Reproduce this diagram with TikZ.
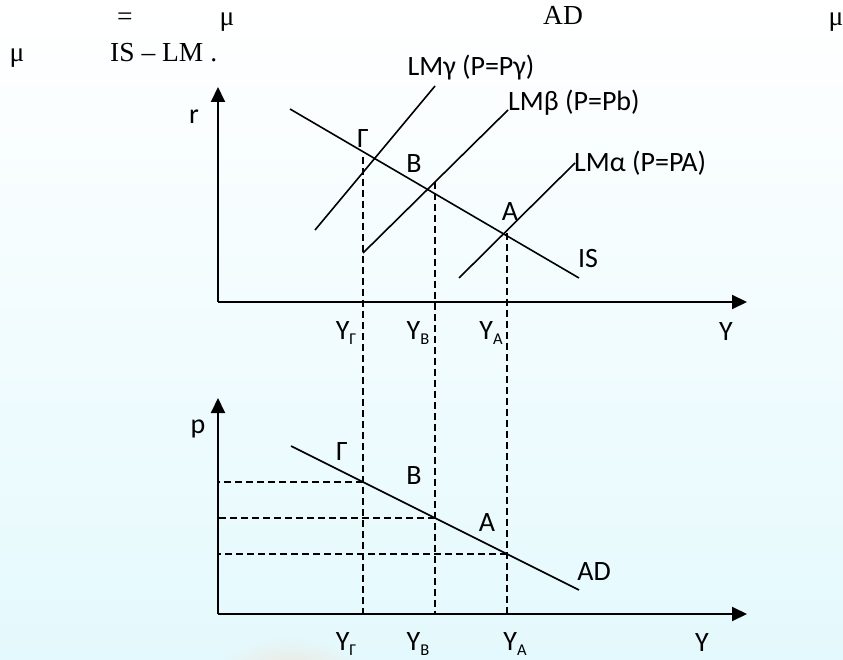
\documentclass[tikz,border=0pt]{standalone}
\usepackage{fontspec}
\setmainfont{Carlito}
\newfontfamily\serifnote{Liberation Serif}
\usetikzlibrary{arrows.meta}
\definecolor{bgbottom}{RGB}{228,249,253}
\definecolor{peach}{RGB}{242,216,198}
\newcommand\mysub[1]{\raisebox{-0.4ex}{\fontsize{16.5}{16.5}\selectfont #1}}
\begin{document}
\begin{tikzpicture}[x=1pt,y=-1pt,
  axis/.style={line width=2pt,-{Triangle[length=15pt,width=14pt]}},
  curve/.style={line width=1.6pt},
  guide/.style={line width=1.6pt,dash pattern=on 7pt off 4pt},
  lbl/.style={inner sep=0pt,font=\fontsize{28}{28}\selectfont},
  tick/.style={lbl,anchor=base},
  toptext/.style={inner sep=0pt,anchor=base,font=\serifnote\fontsize{27.5}{27.5}\selectfont}]
% background
\shade[top color=white,bottom color=bgbottom] (0,0) rectangle (843,660);
\begin{scope}
\clip (0,0) rectangle (843,660);
\shade[inner color=peach,outer color=bgbottom] (290,705) ellipse (90 and 70);
\end{scope}
\useasboundingbox (0,0) rectangle (843,660);
% top text
\node[toptext] (t1) at (125,26) {=};
\node[toptext] (t2) at (227,26) {μ};
\node[toptext] (t3) at (563,25) {AD};
\node[toptext] (t4) at (836,26) {μ};
\node[toptext] (t5) at (17,62) {μ};
\node[toptext,anchor=base west] (t6) at (110,62) {IS – LM .};
% axes
\coordinate (O1) at (218,302);
\coordinate (rTip) at (218,87);
\coordinate (Y1tip) at (747,302);
\coordinate (O2) at (218,614);
\coordinate (pTip) at (218,398);
\coordinate (Y2tip) at (747,614);
\draw[axis] (O1) -- (rTip);
\draw[axis] (O1) -- (Y1tip);
\draw[axis] (O2) -- (pTip);
\draw[axis] (O2) -- (Y2tip);
% curves
\coordinate (IS1) at (290,109); \coordinate (IS2) at (579,278);
\coordinate (LMg1) at (315,230); \coordinate (LMg2) at (435,86);
\coordinate (LMb1) at (363,253); \coordinate (LMb2) at (508,110);
\coordinate (LMa1) at (459,278); \coordinate (LMa2) at (575,163);
\coordinate (AD1) at (291,446); \coordinate (AD2) at (579,590);
\draw[curve] (IS1) -- (IS2);
\draw[curve] (LMg1) -- (LMg2);
\draw[curve] (LMb1) -- (LMb2);
\draw[curve] (LMa1) -- (LMa2);
\draw[curve] (AD1) -- (AD2);
% guides
\coordinate (vG) at (363,157); \coordinate (vB) at (435,182); \coordinate (vA) at (507,233);
\coordinate (pG) at (363,482); \coordinate (pB) at (435,518); \coordinate (pA) at (507,554);
\draw[guide] (vG) -- (vG |- O2);
\draw[guide] (vB) -- (vB |- O2);
\draw[guide] (vA) -- (vA |- O2);
\draw[guide] (pG) -- (pG -| O2);
\draw[guide] (pB) -- (pB -| O2);
\draw[guide] (pA) -- (pA -| O2);
% labels top
\node[lbl] (rlab) at (194,117) {r};
\node[lbl] (lmg) at (471,68) {LMγ (P=Pγ)};
\node[lbl,anchor=west] (lmb) at (508,103) {LMβ (P=Pb)};
\node[lbl,anchor=west] (lma) at (574,163) {LMα (P=PA)};
\node[lbl] (Gt) at (363,139) {Γ};
\node[lbl] (Bt) at (414,164) {B};
\node[lbl] (At) at (510,212) {A};
\node[lbl] (ISl) at (588,259) {IS};
\node[tick] (tG1) at (346,339) {Y\mysub{Γ}};
\node[tick] (tB1) at (418,339) {Y\mysub{B}};
\node[tick] (tA1) at (491,339) {Y\mysub{A}};
\node[tick] (Ylab1) at (726,340) {Y};
% labels bottom
\node[lbl] (plab) at (198,429) {p};
\node[lbl] (Gb) at (342,452) {Γ};
\node[lbl] (Bb) at (414,476) {B};
\node[lbl] (Ab) at (487,523) {A};
\node[lbl] (ADl) at (594,572) {AD};
\node[tick] (tG2) at (346,650) {Y\mysub{Γ}};
\node[tick] (tB2) at (418,650) {Y\mysub{B}};
\node[tick] (tA2) at (515,650) {Y\mysub{A}};
\node[tick] (Ylab2) at (702,651) {Y};
\end{tikzpicture}
\end{document}
